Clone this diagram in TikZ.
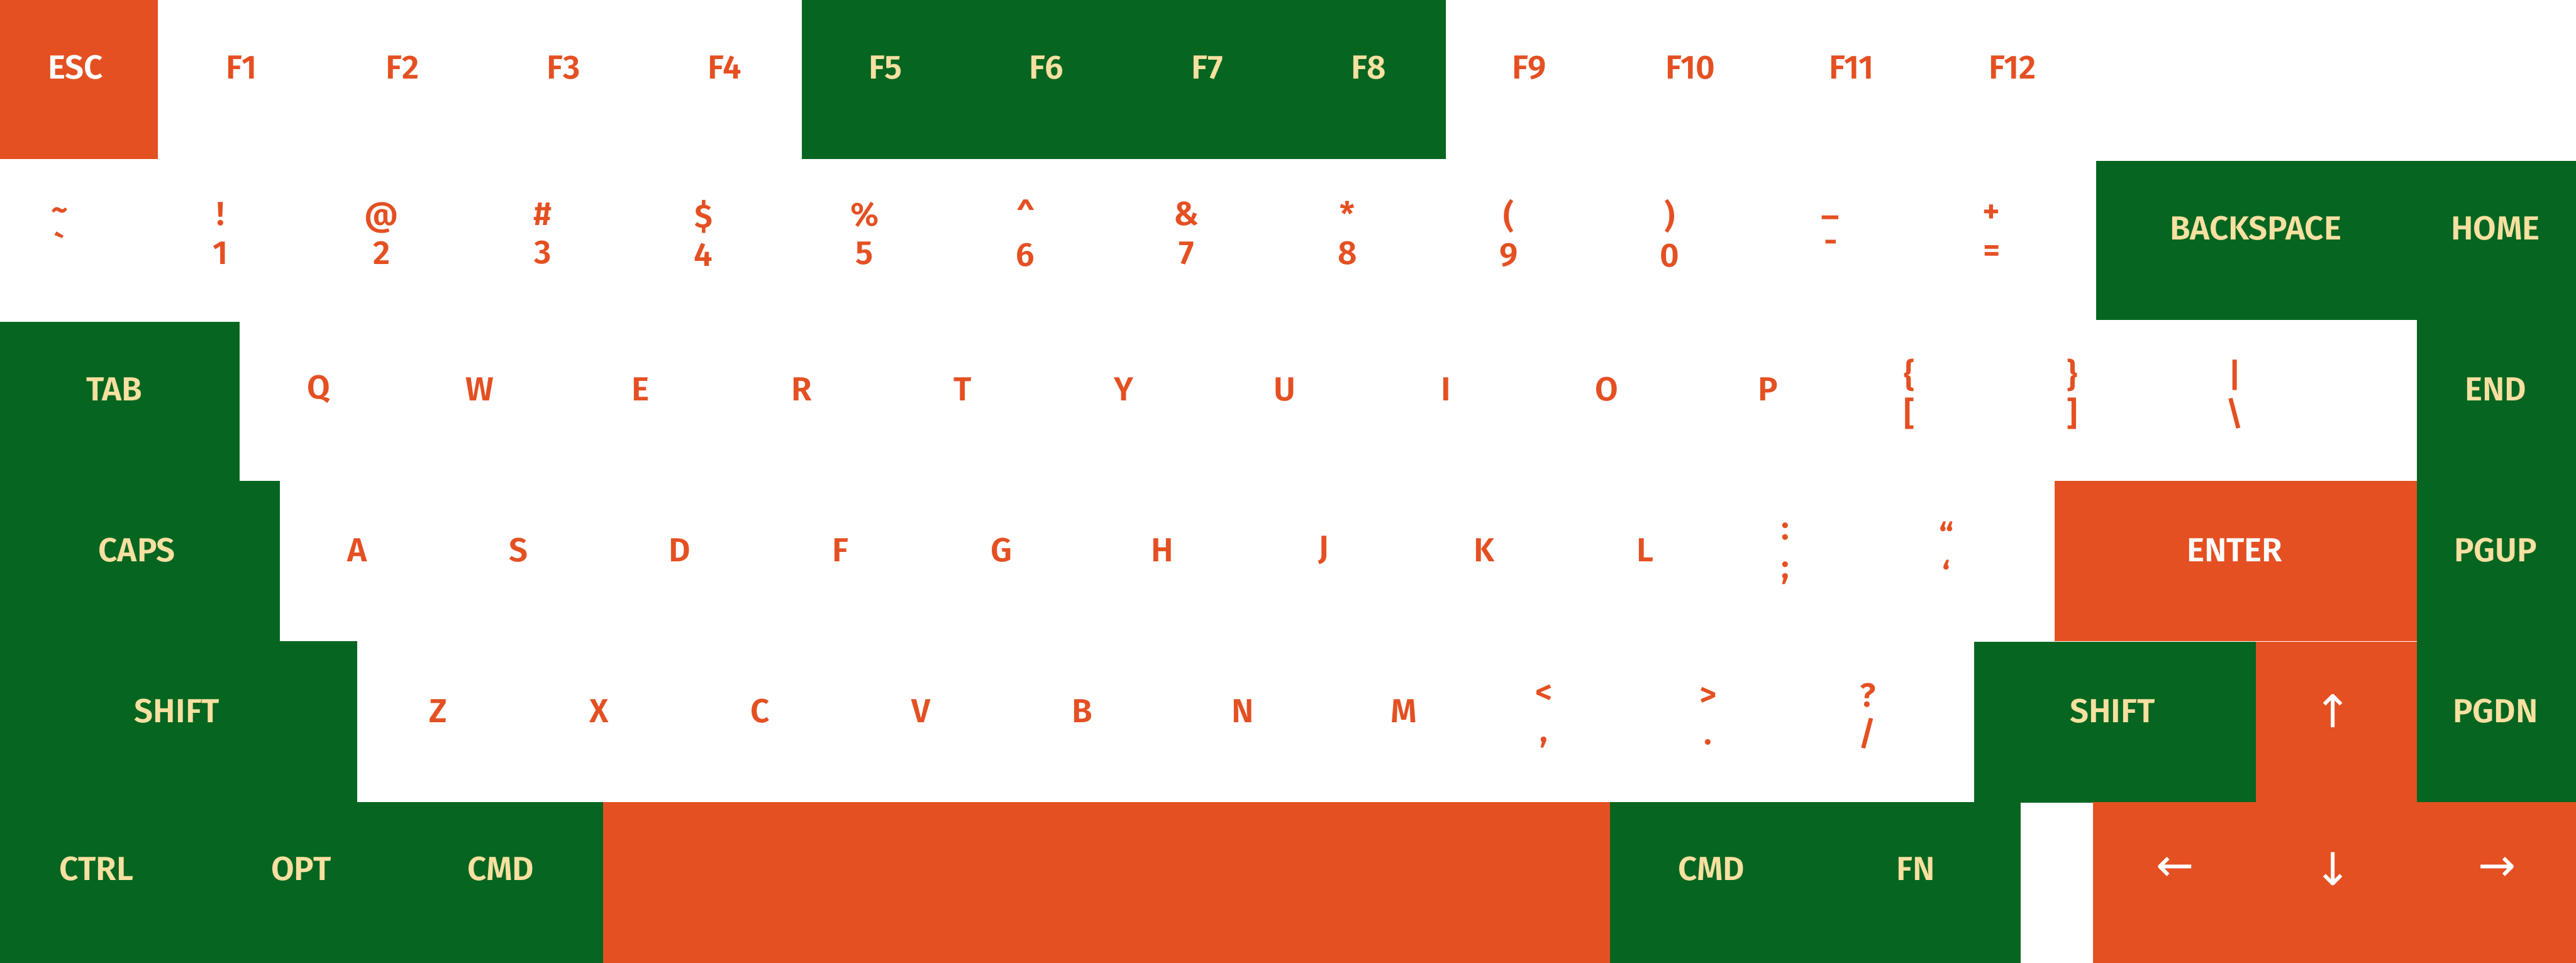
\documentclass[tikz,border=0pt]{standalone}
\usepackage{fontspec}
\setmainfont{Fira Sans}[UprightFont=* SemiBold]
\newfontfamily\arrowfont{DejaVu Sans}
\definecolor{keyorange}{HTML}{E45022}
\definecolor{keygreen}{HTML}{066621}
\definecolor{keycream}{HTML}{F8E0A0}

\begin{document}
\begin{tikzpicture}[x=1cm,y=-1cm,
  lbl/.style={font=\fontsize{5.9}{6.8}\selectfont,align=center,inner sep=0pt},
  onwhite/.style={lbl,text=keyorange},
  ongreen/.style={lbl,text=keycream},
  onorange/.style={lbl,text=white},
  arrowlbl/.style={onorange,font=\arrowfont\fontsize{8}{8}\selectfont}]
\useasboundingbox(0,0)rectangle(16,5.984);
\fill[keyorange](0,0)rectangle(.98,.99);
\fill[keygreen](4.98,0)rectangle(8.98,.99);
\fill[keygreen](13.02,1)rectangle(16,1.99);
\fill[keygreen](15.01,1)rectangle(16,4.985);
\fill[keygreen](0,2)rectangle(1.49,2.99);
\fill[keygreen](0,2.99)rectangle(1.74,3.985);
\fill[keyorange](12.76,2.99)rectangle(15.01,3.985);
\fill[keygreen](0,3.985)rectangle(2.22,4.985);
\fill[keygreen](12.26,3.99)rectangle(14.01,4.99);
\fill[keyorange](14.01,3.99)rectangle(15.01,4.99);
\fill[keygreen](0,4.985)rectangle(3.745,5.984);
\fill[keyorange](3.745,4.985)rectangle(10,5.984);
\fill[keygreen](10,4.985)rectangle(12.55,5.984);
\fill[keyorange](13,4.985)rectangle(16,5.984);
\node[onorange](esc)at(.47,.42){ESC};
\foreach\i in{1,2,3,4,9,10,11,12}{\node[onwhite](f\i)at(\i+.5,.42){F\i};}
\foreach\i in{5,...,8}{\node[ongreen](f\i)at(\i+.5,.42){F\i};}
\foreach\t/\b[count=\i from 0]in{{\textasciitilde}/{\textasciigrave},!/1,@/2,\#/3,\$/4,\%/5,{\textasciicircum}/6,\&/7,*/8,{(}/9,{)}/0,\_/-,+/=}{\node[onwhite](n\i)at(\i+.37,1.45){\t\\\b};}
\node[ongreen](bksp)at(14.01,1.42){BACKSPACE};
\node[ongreen](home)at(15.5,1.42){HOME};
\node[ongreen](tab)at(.71,2.42){TAB};
\foreach\k[count=\i from 0]in{Q,W,E,R,T,Y,U,I,O,P}{\node[onwhite](k\k)at(\i+1.98,2.42){\k};}
\node[onwhite](lbrk)at(11.86,2.45){\{\\{[}};
\node[onwhite](rbrk)at(12.87,2.45){\}\\{]}};
\node[onwhite](bslash)at(13.88,2.45){\textbar\\\textbackslash};
\node[ongreen](end)at(15.5,2.42){END};
\node[ongreen](caps)at(.85,3.42){CAPS};
\foreach\k[count=\i from 0]in{A,S,D,F,G,H,J,K,L}{\node[onwhite](k\k)at(\i+2.22,3.42){\k};}
\node[onwhite](semi)at(11.09,3.44){:\\;};
\node[onwhite](quote)at(12.09,3.44){“\\‘};
\node[onorange](enter)at(13.88,3.42){ENTER};
\node[ongreen](pgup)at(15.5,3.42){PGUP};
\node[ongreen](lshift)at(1.10,4.42){SHIFT};
\foreach\k[count=\i from 0]in{Z,X,C,V,B,N,M}{\node[onwhite](k\k)at(\i+2.72,4.42){\k};}
\node[onwhite](comma)at(9.59,4.45){<\\,};
\node[onwhite](period)at(10.61,4.45){>\\.};
\node[onwhite](slash)at(11.6,4.45){?\\/};
\node[ongreen](rshift)at(13.12,4.42){SHIFT};
\node[arrowlbl](up)at(14.49,4.42){↑};
\node[ongreen](pgdn)at(15.5,4.42){PGDN};
\node[ongreen](ctrl)at(.6,5.40){CTRL};
\node[ongreen](opt)at(1.87,5.40){OPT};
\node[ongreen](lcmd)at(3.11,5.40){CMD};
\node[ongreen](rcmd)at(10.63,5.40){CMD};
\node[ongreen](fn)at(11.9,5.40){FN};
\node[arrowlbl](left)at(13.51,5.40){←};
\node[arrowlbl](down)at(14.49,5.40){↓};
\node[arrowlbl](right)at(15.51,5.40){→};
\end{tikzpicture}
\end{document}
